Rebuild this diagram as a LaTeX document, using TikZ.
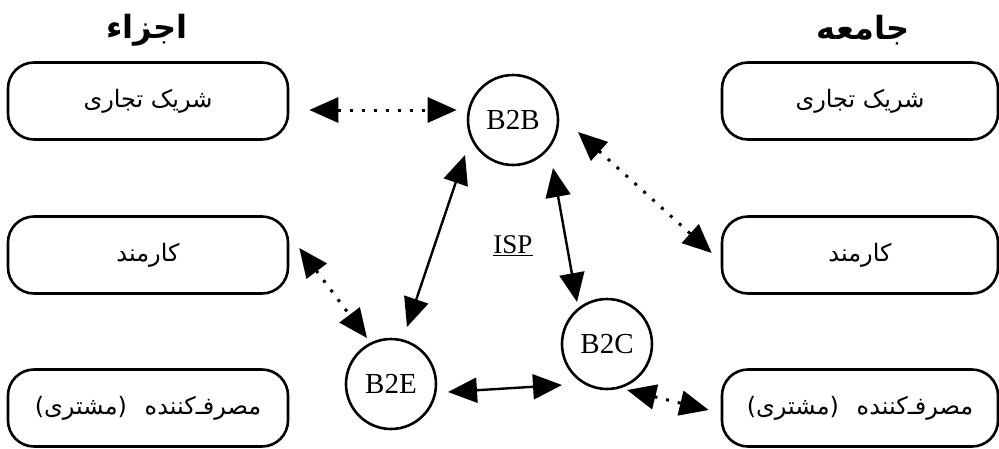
\documentclass[tikz,border=0pt]{standalone}
\usepackage{fontspec}
\setmainfont{Liberation Serif}
\newfontfamily\arabicfont[Script=Arabic]{DejaVu Sans}
\TeXXeTstate=1
\usetikzlibrary{arrows.meta}
\newcommand{\ar}[1]{{\arabicfont\beginR #1\endR}}
\begin{document}
\begin{tikzpicture}[x=1pt,y=-1pt,
  box/.style={draw,line width=2.6pt,rounded corners=26pt,minimum width=280pt,minimum height=77pt,inner sep=0pt,font=\fontsize{24}{28}\selectfont},
  hub/.style={draw,circle,line width=2.6pt,minimum size=90pt,inner sep=0pt,font=\fontsize{29}{34}\selectfont},
  head/.style={font=\fontsize{32}{36}\selectfont\bfseries},
  solidarrow/.style={line width=2.4pt,{Triangle[length=29pt,width=25pt]}-{Triangle[length=29pt,width=25pt]}},
  dotarrow/.style={line width=3pt,dash pattern=on 3pt off 9pt,{Triangle[length=29pt,width=25pt]}-{Triangle[length=29pt,width=25pt]}}
]
\useasboundingbox (0,0) rectangle (999,448);
\node[head] (hl) at (147,30) {\ar{اجزاء}};
\node[head] (hr) at (863,30) {\ar{جامعه}};
\node[box] (l1) at (148,101) {\ar{شریک تجاری}};
\node[box] (l2) at (148,255) {\ar{کارمند}};
\node[box] (l3) at (148,408) {\ar{مصرفـ‌کننده\hspace{10pt} (مشتری)}};
\node[box,minimum width=276pt] (r1) at (860,101) {\ar{شریک تجاری}};
\node[box,minimum width=276pt] (r2) at (860,255) {\ar{کارمند}};
\node[box,minimum width=276pt] (r3) at (860,408) {\ar{مصرفـ‌کننده\hspace{10pt} (مشتری)}};
\node[hub] (b2b) at (513,120) {B2B};
\node[hub] (b2e) at (391,384) {B2E};
\node[hub] (b2c) at (607,344) {B2C};
\node[font=\fontsize{27}{31}\selectfont,inner sep=0pt] (isp) at (513,246) {\underline{ISP}};
% connectors
\draw[dotarrow] ([shift={(20,9)}]l1.east) -- ([shift={(-10,-10)}]b2b.west);
\draw[dotarrow] ([shift={(65,12)}]b2b.center) -- ([shift={(-9,-2)}]r2.west);
\draw[solidarrow] ([shift={(-48,35)}]b2b.center) -- ([shift={(16,-57)}]b2e.center);
\draw[solidarrow] ([shift={(40,48)}]b2b.center) -- ([shift={(-30,-42)}]b2c.center);
\draw[dotarrow] ([shift={(10,-7)}]l2.east) -- ([shift={(-24,-46)}]b2e.center);
\draw[solidarrow] ([shift={(57,8)}]b2e.center) -- ([shift={(-45,41)}]b2c.center);
\draw[dotarrow] ([shift={(20,46)}]b2c.center) -- ([shift={(-12,2)}]r3.west);
\end{tikzpicture}
\end{document}
